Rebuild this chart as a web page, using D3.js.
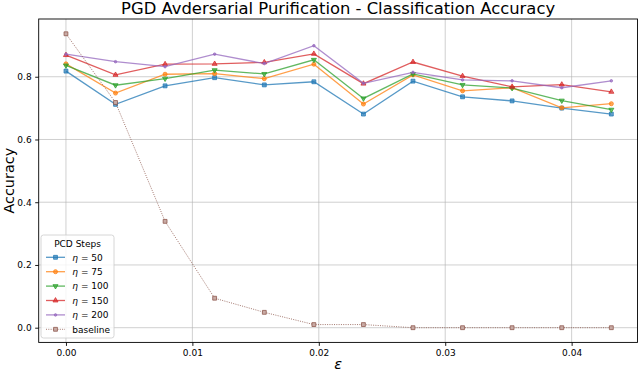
<!DOCTYPE html>
<html>
<head>
<meta charset="utf-8">
<script src="https://cdn.jsdelivr.net/npm/d3@7"></script>
<style>
  body { margin: 0; background: #fff; }
  svg { display: block; font-family: "DejaVu Sans", sans-serif; }
  .grid line { stroke: #b0b0b0; stroke-opacity: 0.6; stroke-width: 1; }
  .axis line { stroke: #000; stroke-width: 0.9; }
  .axis .domain { display: none; }
  .axis text { font-size: 9px; fill: #000; font-family: "DejaVu Sans", sans-serif; }
</style>
</head>
<body>
<svg id="chart"></svg>
<script>
// epsilon values (k/255)
var eps = [0, 0.00392, 0.00784, 0.01176, 0.01569, 0.01961, 0.02353, 0.02745, 0.03137, 0.03529, 0.03922, 0.04314];

var eta50  = [0.818, 0.712, 0.771, 0.797, 0.774, 0.784, 0.681, 0.786, 0.736, 0.723, 0.700, 0.681];
var eta75  = [0.841, 0.748, 0.808, 0.810, 0.794, 0.840, 0.713, 0.806, 0.755, 0.765, 0.701, 0.714];
var eta100 = [0.836, 0.773, 0.794, 0.821, 0.809, 0.854, 0.731, 0.809, 0.774, 0.764, 0.724, 0.695];
var eta150 = [0.869, 0.806, 0.840, 0.841, 0.846, 0.873, 0.778, 0.847, 0.802, 0.768, 0.775, 0.752];
var eta200 = [0.872, 0.848, 0.832, 0.872, 0.842, 0.899, 0.779, 0.814, 0.790, 0.787, 0.765, 0.787];
var baseline = [0.937, 0.718, 0.339, 0.094, 0.049, 0.010, 0.010, 0.000, 0.000, 0.000, 0.000, 0.000];

var xTicks = [0, 0.01, 0.02, 0.03, 0.04];
var yTicks = [0, 0.2, 0.4, 0.6, 0.8];

var W = 640, H = 375;
var margin = {top: 19, right: 2.5, bottom: 32.6, left: 38.7},
    width = W - margin.left - margin.right,
    height = H - margin.top - margin.bottom;

var svg = d3.select("#chart").attr("width", W).attr("height", H);

var x = d3.scaleLinear()
    .domain([-0.002157, 0.04521])
    .range([0, width]);

var y = d3.scaleLinear()
    .domain([-0.04686, 0.98409])
    .range([height, 0]);

var g = svg.append("g")
    .attr("transform", "translate(" + margin.left + "," + margin.top + ")");

// grid
g.append("g").attr("class", "grid")
  .selectAll("line").data(xTicks).enter().append("line")
    .attr("x1", function(d) { return x(d); })
    .attr("x2", function(d) { return x(d); })
    .attr("y1", 0).attr("y2", height);
g.append("g").attr("class", "grid")
  .selectAll("line").data(yTicks).enter().append("line")
    .attr("y1", function(d) { return y(d); })
    .attr("y2", function(d) { return y(d); })
    .attr("x1", 0).attr("x2", width);

var series = [
  {name: "50",  values: eta50,  color: "#1f77b4", marker: "square"},
  {name: "75",  values: eta75,  color: "#ff7f0e", marker: "circle"},
  {name: "100", values: eta100, color: "#2ca02c", marker: "tridown"},
  {name: "150", values: eta150, color: "#d62728", marker: "triup"},
  {name: "200", values: eta200, color: "#9467bd", marker: "point"},
  {name: "baseline", values: baseline, color: "#8c564b", marker: "square", dotted: true}
];

function markerPath(type) {
  if (type == "square") return d3.symbol().type(d3.symbolSquare).size(15)();
  if (type == "circle") return d3.symbol().type(d3.symbolCircle).size(13)();
  if (type == "triup" || type == "tridown") return d3.symbol().type(d3.symbolTriangle).size(11)();
  return d3.symbol().type(d3.symbolCircle).size(5)();
}

function drawMarker(sel, s) {
  sel.append("path")
    .attr("d", markerPath(s.marker))
    .attr("transform", function(d) {
      return (s.marker == "tridown") ? "rotate(180)" : null;
    })
    .attr("fill", s.dotted ? "#c8aaa4" : s.color)
    .attr("fill-opacity", s.dotted ? 1 : 0.65)
    .attr("stroke", s.color)
    .attr("stroke-opacity", 0.85)
    .attr("stroke-width", 0.9);
}

var line = d3.line()
    .x(function(d, i) { return x(eps[i]); })
    .y(function(d) { return y(d); });

series.forEach(function(s) {
  var sg = g.append("g");
  sg.append("path")
    .datum(s.values)
    .attr("fill", "none")
    .attr("stroke", s.color)
    .attr("stroke-opacity", s.dotted ? 0.8 : 0.75)
    .attr("stroke-width", s.dotted ? 1 : 1.3)
    .attr("stroke-dasharray", s.dotted ? "1,1.3" : null)
    .attr("d", line);
  var pts = sg.selectAll(".pt").data(s.values).enter().append("g")
    .attr("class", "pt")
    .attr("transform", function(d, i) { return "translate(" + x(eps[i]) + "," + y(d) + ")"; });
  drawMarker(pts, s);
});

// axes
var xAxis = d3.axisBottom(x).tickValues(xTicks).tickSizeInner(3.5).tickSizeOuter(0).tickPadding(3.5)
    .tickFormat(d3.format(".2f"));
var yAxis = d3.axisLeft(y).tickValues(yTicks).tickSizeInner(3.5).tickSizeOuter(0).tickPadding(3.5)
    .tickFormat(d3.format(".1f"));

g.append("g").attr("class", "axis")
    .attr("transform", "translate(0," + height + ")")
    .call(xAxis);
g.append("g").attr("class", "axis")
    .call(yAxis);

// frame
g.append("rect")
    .attr("width", width).attr("height", height)
    .attr("fill", "none").attr("stroke", "#000").attr("stroke-width", 0.9);

// title and labels
svg.append("text")
    .attr("x", margin.left + width / 2)
    .attr("y", 13.5)
    .attr("text-anchor", "middle")
    .attr("textLength", 434)
    .attr("lengthAdjust", "spacingAndGlyphs")
    .style("font-size", "15px")
    .text("PGD Avdersarial Purification - Classification Accuracy");

svg.append("text")
    .attr("transform", "translate(13.5," + (margin.top + height / 2) + ") rotate(-90)")
    .attr("text-anchor", "middle")
    .style("font-size", "14.4px")
    .text("Accuracy");

svg.append("text")
    .attr("x", margin.left + width / 2)
    .attr("y", 369)
    .attr("text-anchor", "middle")
    .style("font-size", "14.4px")
    .style("font-style", "italic")
    .text("ε");

// legend
var legend = svg.append("g").attr("transform", "translate(41,235)");
legend.append("rect")
    .attr("width", 73).attr("height", 103)
    .attr("rx", 2.5)
    .attr("fill", "#fff").attr("fill-opacity", 0.8)
    .attr("stroke", "#ccc").attr("stroke-width", 0.8);
legend.append("text")
    .attr("x", 36.5).attr("y", 11.6)
    .attr("text-anchor", "middle")
    .style("font-size", "9px")
    .text("PCD Steps");

var items = legend.selectAll(".item").data(series).enter().append("g")
    .attr("class", "item")
    .attr("transform", function(d, i) { return "translate(0," + (22.3 + i * 14.4) + ")"; });

items.each(function(s) {
  var it = d3.select(this);
  it.append("line")
    .attr("x1", 5).attr("x2", 24)
    .attr("stroke", s.color)
    .attr("stroke-opacity", s.dotted ? 0.8 : 0.75)
    .attr("stroke-width", s.dotted ? 1 : 1.3)
    .attr("stroke-dasharray", s.dotted ? "1,1.3" : null);
  var m = it.append("g").attr("transform", "translate(14.5,0)");
  drawMarker(m.datum(0), s);
  var t = it.append("text").attr("x", 31.3).attr("y", 3.3).style("font-size", "9px");
  if (s.dotted) {
    t.text(s.name);
  } else {
    t.append("tspan").style("font-style", "italic").text("η");
    t.append("tspan").text(" = " + s.name);
  }
});
</script>
</body>
</html>
